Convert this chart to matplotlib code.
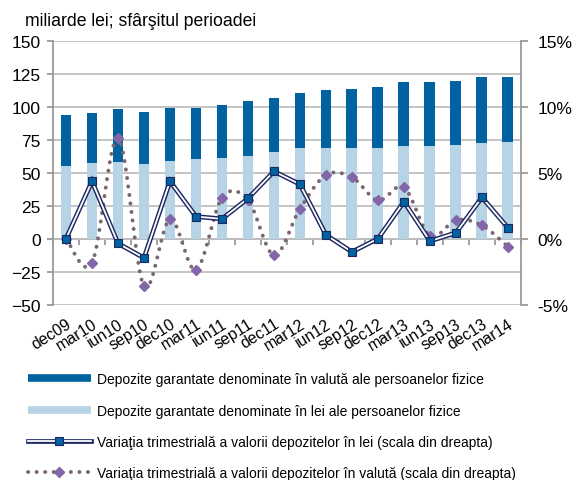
import numpy as np
import matplotlib
matplotlib.use("Agg")
import matplotlib.pyplot as plt
from matplotlib.lines import Line2D
from matplotlib.ticker import FuncFormatter

plt.rcParams["font.family"] = ["Liberation Sans", "DejaVu Sans"]

# quarters
quarters = ["dec09", "mar10", "iun10", "sep10", "dec10", "mar11", "iun11", "sep11",
            "dec11", "mar12", "iun12", "sep12", "dec12", "mar13", "iun13", "sep13",
            "dec13", "mar14"]

# deposits, bn lei (left scale)
dep_lei = [55.3, 57.6, 58.1, 56.9, 59.1, 60.2, 61.2, 62.9, 66.0, 69.0, 69.0, 68.5,
           68.5, 70.0, 70.0, 70.6, 72.6, 73.1]
dep_valuta = [38.4, 37.8, 40.1, 38.8, 39.9, 38.8, 39.8, 41.1, 40.6, 41.2, 43.4, 45.2,
              46.5, 48.8, 48.8, 49.2, 49.7, 49.7]

# quarterly change, % (right scale)
var_lei = [0.0, 4.35, -0.36, -1.45, 4.35, 1.68, 1.5, 3.05, 5.1, 4.12, 0.28, -1.0,
           0.0, 2.8, -0.18, 0.45, 3.13, 0.83]
var_valuta = [0.0, -1.83, 7.65, -3.6, 1.48, -2.37, 3.1, 2.93, -1.25, 2.27, 4.82, 4.65,
              2.9, 3.89, 0.2, 1.41, 1.01, -0.6]

c_dark = "#0062a0"
c_light = "#b7d3e6"
c_navy = "#1d2860"
c_dots = "#7c6670"
c_diam = "#8266a8"
c_grid = "#bfbfbf"
c_axis = "#9a9a9a"


def smooth(y, n=20):
    # Excel-like smoothed line (Bezier through the points), rendering only
    y = np.asarray(y, float)
    x = np.arange(len(y), dtype=float)
    p = np.column_stack([x, y])
    p = np.vstack([p[0], p, p[-1]])
    t = np.linspace(0, 1, n)[:, None]
    out = []
    for i in range(1, len(p) - 2):
        p0, p1, p2, p3 = p[i - 1], p[i], p[i + 1], p[i + 2]
        c1 = p1 + (p2 - p0) / 6
        c2 = p2 - (p3 - p1) / 6
        seg = ((1 - t) ** 3) * p1 + 3 * ((1 - t) ** 2) * t * c1 + 3 * (1 - t) * t ** 2 * c2 + t ** 3 * p2
        out.append(seg if i == 1 else seg[1:])
    out = np.vstack(out)
    return out[:, 0], out[:, 1]


fig = plt.figure(figsize=(5.72, 4.81), dpi=100)
ax = fig.add_axes([0.0927, 0.3644, 0.818, 0.549])
x = np.arange(len(quarters))

ax.bar(x, dep_lei, width=0.42, color=c_light, zorder=2)
ax.bar(x, dep_valuta, width=0.42, bottom=dep_lei, color=c_dark, zorder=2)

ax.set_xlim(-0.5, len(quarters) - 0.5)
ax.set_ylim(-50, 150)
ax.set_yticks(np.arange(-50, 151, 25))
ax.grid(axis="y", color=c_grid, linewidth=1.3)
ax.set_axisbelow(True)
ax.set_xticks(x)
ax.set_xticklabels(quarters, rotation=32, ha="right", va="top",
                   rotation_mode="anchor", fontsize=11.5)
ax.tick_params(axis="x", length=0, pad=8)
ax.tick_params(axis="y", length=4, color=c_axis, width=1.3, labelsize=12.5, pad=5)
for s in ["top", "right", "bottom"]:
    ax.spines[s].set_visible(False)
ax.spines["left"].set_color(c_axis)
ax.spines["left"].set_linewidth(1.3)

# horizontal axis crossing at zero
sec = ax.secondary_xaxis(0.25)
sec.set_xticks(np.arange(-0.5, len(quarters), 1))
sec.tick_params(axis="x", length=4, color=c_axis, width=1.3, labelbottom=False)
sec.spines["bottom"].set_color(c_axis)
sec.spines["bottom"].set_linewidth(1.3)

ax2 = ax.twinx()
ax2.set_ylim(-5, 15)
ax2.set_yticks(np.arange(-5, 16, 5))
ax2.yaxis.set_major_formatter(FuncFormatter(lambda v, p: f"{v:.0f}%"))
ax2.tick_params(axis="y", length=5, color=c_axis, width=1.3, labelsize=12.5, pad=7)
for s in ["top", "left", "bottom"]:
    ax2.spines[s].set_visible(False)
ax2.spines["right"].set_color(c_axis)
ax2.spines["right"].set_linewidth(1.3)

dot_style = (0, (0.05, 2.15))

# foreign-currency change: smoothed dotted line + diamonds
sx, sy = smooth(var_valuta)
ax2.plot(sx, sy, color=c_dots, lw=2.8, linestyle=dot_style,
         dash_capstyle="round", zorder=3)
ax2.plot(x, var_valuta, linestyle="none", marker="D", ms=5.5, color=c_diam,
         markeredgecolor=c_diam, zorder=4)

# lei change: double line + squares
ax2.plot(x, var_lei, color=c_navy, lw=3.4, zorder=5, solid_joinstyle="miter")
ax2.plot(x, var_lei, color="white", lw=1.3, zorder=6, solid_joinstyle="miter")
ax2.plot(x, var_lei, linestyle="none", marker="s", ms=5.8, color=c_dark,
         markeredgecolor=c_navy, markeredgewidth=0.8, zorder=7)

fig.text(0.044, 1 - 26 / 481, "miliarde lei; sfârşitul perioadei", fontsize=12.7,
         va="baseline", ha="left")

h1 = Line2D([], [], color=c_dark, lw=5.5, solid_capstyle="butt")
h2 = Line2D([], [], color=c_light, lw=5.5, solid_capstyle="butt")
h3 = (Line2D([], [], color=c_navy, lw=3.4),
      Line2D([], [], color="white", lw=1.3),
      Line2D([], [], linestyle="none", marker="s", ms=5.8, color=c_dark,
             markeredgecolor=c_navy, markeredgewidth=0.8))
h4 = (Line2D([], [], color=c_dots, lw=2.8, linestyle=dot_style,
             dash_capstyle="round"),
      Line2D([], [], linestyle="none", marker="D", ms=5.5, color=c_diam))
labels = ["Depozite garantate denominate în valută ale persoanelor fizice",
          "Depozite garantate denominate în lei ale persoanelor fizice",
          "Variaţia trimestrială a valorii depozitelor în lei (scala din dreapta)",
          "Variaţia trimestrială a valorii depozitelor în valută (scala din dreapta)"]
fig.legend([h1, h2, h3, h4], labels, loc="upper left", bbox_to_anchor=(0.049, 0.224),
           frameon=False, fontsize=10, handlelength=4.5, handletextpad=0.5,
           labelspacing=1.25, borderpad=0, borderaxespad=0, numpoints=1)

fig.savefig("out.png", dpi=100)
